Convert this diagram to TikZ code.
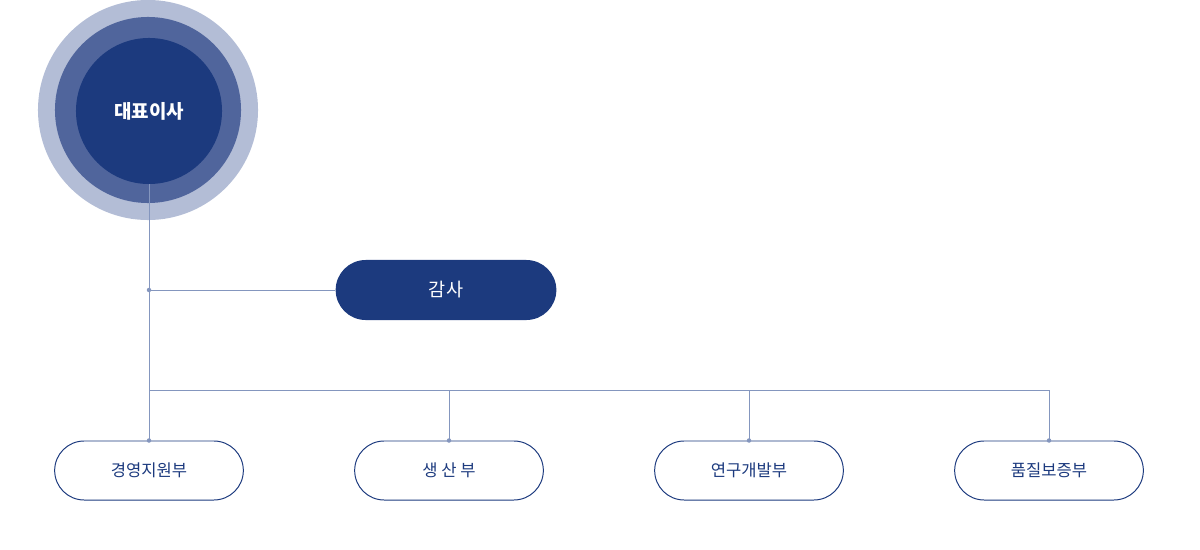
\documentclass[tikz,border=0pt]{standalone}
\usepackage{fontspec}
\setmainfont{Noto Sans CJK KR}
\usetikzlibrary{positioning}
\usetikzlibrary{shapes.misc}
\definecolor{navy}{HTML}{1C3A7E}
\definecolor{ringmid}{HTML}{50659C}
\definecolor{ringout}{HTML}{B3BDD6}
\definecolor{wire}{HTML}{8496BE}

\begin{document}
\begin{tikzpicture}[
    x=0.025cm, y=-0.025cm,
    % node styles
    ring/.style = {
      circle,
      draw=none,
      inner sep=0pt
    },
    topbox/.style = {
      rounded rectangle,
      fill=navy,
      draw=none,
      minimum width=5.75cm,
      minimum height=1.5cm,
      font=\fontsize{13.2}{15}\selectfont,
      text=white
    },
    dept/.style = {
      rounded rectangle,
      draw=navy,
      line width=0.7pt,
      fill=white,
      minimum width=4.95cm,
      minimum height=1.475cm,
      font=\fontsize{11.8}{14}\selectfont,
      text=navy
    },
    % line styles
    wireline/.style = {draw=wire, line width=0.7pt},
    joint/.style = {circle, fill=wire, inner sep=0pt, minimum size=3.2pt}
  ]

  \useasboundingbox (0,0) rectangle (1200,550);

  % --- Nodes
  \node[ring, fill=ringout, minimum size=5.5cm] (ceoout) at (148,110) {};
  \node[ring, fill=ringmid, minimum size=4.65cm] (ceomid) at (148,110) {};
  \node[ring, fill=navy, minimum size=3.65cm, text=white,
        font=\bfseries\fontsize{13.5}{15}\selectfont] (ceo) at (149,111) {대표이사};

  \node[topbox] (audit) at (446,290) {감사};

  \node[dept] (mgmt) at (149,470.5) {경영지원부};
  \node[dept] (prod) at (449,470.5) {생 산 부};
  \node[dept] (rnd)  at (749,470.5) {연구개발부};
  \node[dept] (qa)   at (1049,470.5) {품질보증부};

  \coordinate (jaudit) at (149,290);
  \coordinate (bus) at (149,390);

  % --- Lines
  \draw[wireline] (ceo.south -| mgmt.north) -- (mgmt.north);
  \draw[wireline] (jaudit) -- (audit.west);
  \draw[wireline] (bus) -| (prod.north);
  \draw[wireline] (bus) -| (rnd.north);
  \draw[wireline] (bus) -| (qa.north);

  % --- Joints
  \node[joint] at (jaudit) {};
  \foreach \d in {mgmt,prod,rnd,qa}
    \node[joint] at (\d.north) {};

\end{tikzpicture}
\end{document}
